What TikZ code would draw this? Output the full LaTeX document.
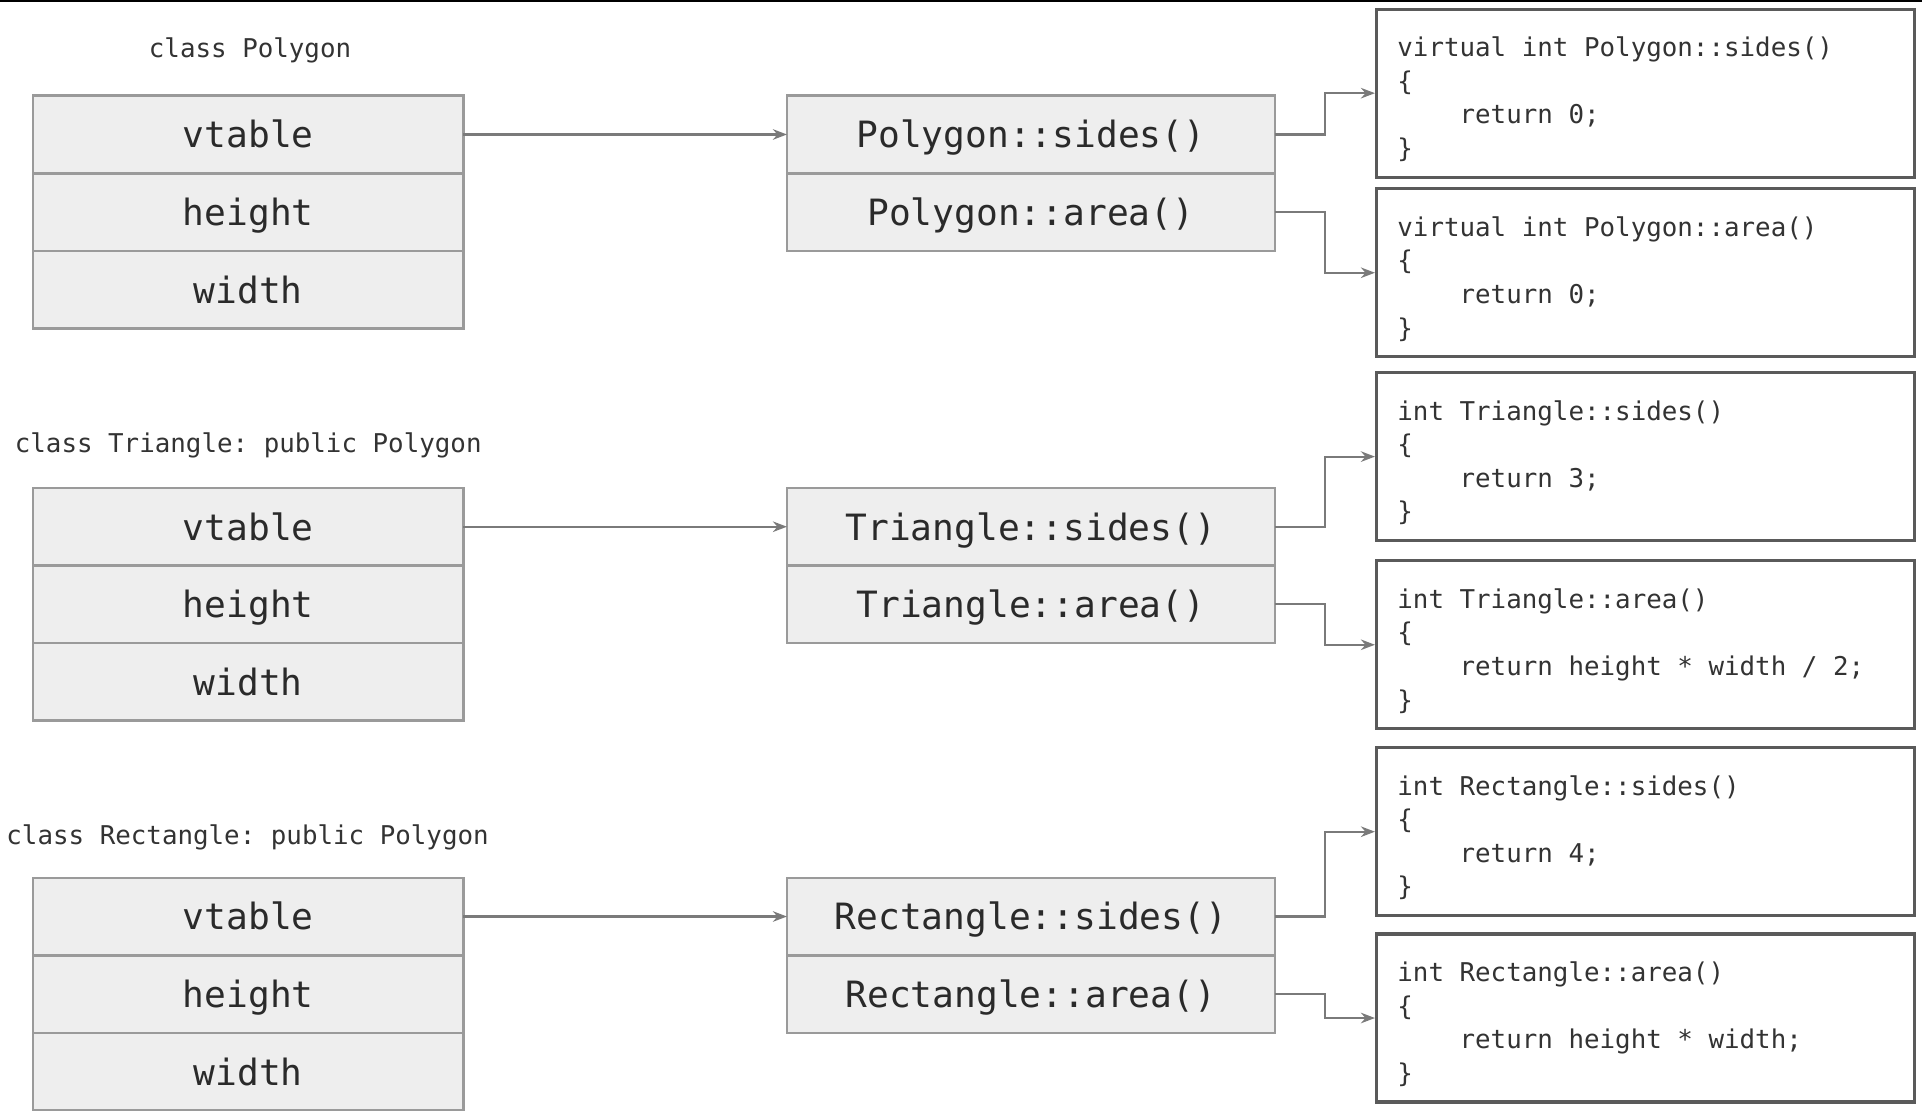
\documentclass[tikz,border=0pt]{standalone}
\usepackage{fontspec}
\usetikzlibrary{arrows.meta,calc}
\newfontfamily\monofont[WordSpace={1,0,0}]{DejaVu Sans Mono}
\frenchspacing
\definecolor{boxfill}{HTML}{EEEEEE}
\definecolor{boxline}{HTML}{9A9A9A}
\definecolor{codeline}{HTML}{5A5A5A}
\definecolor{txt}{HTML}{2A2A2A}
\definecolor{codetxt}{HTML}{333333}
\definecolor{conncol}{HTML}{7A7A7A}
\def\u{0.012258cm}
\newcommand\fixsp{\spaceskip=\fontdimen2\font\relax\xspaceskip=\fontdimen2\font\relax}
\newcommand\ind{\hspace*{2.408em}}
\begin{document}
\begin{tikzpicture}[x=\u,y=-\u,
  field/.style={draw=boxline,fill=boxfill,line width=0.7pt,minimum width={351*\u},minimum height={63.3*\u},inner sep=0pt,outer sep=0pt,text=txt,font=\monofont\fontsize{10.3}{12}\selectfont,text height=0.76em,text depth=0pt},
  method/.style={field,minimum width={398*\u}},
  codebox/.style={draw=codeline,fill=white,line width=0.9pt,minimum width={439*\u},minimum height={137*\u},inner sep=0pt},
  codetext/.style={inner xsep={17*\u},inner ysep=0pt,text width={405*\u},align=left,text=codetxt,font=\monofont\fontsize{7.35}{9.55}\selectfont},
  classlabel/.style={text=codetxt,font=\monofont\fontsize{7.35}{9}\selectfont,inner sep=0pt},
  conn/.style={draw=conncol,line width=0.6pt,-{Stealth[length=4pt,width=3pt]}}
]
\useasboundingbox (0,0) rectangle (1568,906);
\fill[black] (0,0) rectangle (1568,1.6);

% ---- Polygon ----
\node[classlabel] (lp) at (204,41) {class Polygon};
\node[field] (p1) at (202.5,109.7) {vtable};
\node[field] (p2) at (202.5,173) {height};
\node[field] (p3) at (202.5,236.3) {width};
\node[method] (pm1) at (841,109.7) {Polygon::sides()};
\node[method] (pm2) at (841,173) {Polygon::area()};
\node[codebox] (pc1) at (1342.5,76) {};
\node[codetext] (pc1t) at ($(pc1.center)+(0,5)$) {\fixsp virtual int Polygon::sides()\\\{\\\ind return 0;\\\}};
\node[codebox] (pc2) at (1342.5,222.5) {};
\node[codetext] (pc2t) at ($(pc2.center)+(0,5)$) {\fixsp virtual int Polygon::area()\\\{\\\ind return 0;\\\}};

% ---- Triangle ----
\node[classlabel] (lt) at (202.5,363) {class Triangle: public Polygon};
\node[field] (t1) at (202.5,429.7) {vtable};
\node[field] (t2) at (202.5,493) {height};
\node[field] (t3) at (202.5,556.3) {width};
\node[method] (tm1) at (841,429.7) {Triangle::sides()};
\node[method] (tm2) at (841,493) {Triangle::area()};
\node[codebox] (tc1) at (1342.5,372.5) {};
\node[codetext] (tc1t) at ($(tc1.center)+(0,5)$) {\fixsp int Triangle::sides()\\\{\\\ind return 3;\\\}};
\node[codebox] (tc2) at (1342.5,526) {};
\node[codetext] (tc2t) at ($(tc2.center)+(0,5)$) {\fixsp int Triangle::area()\\\{\\\ind return height * width / 2;\\\}};

% ---- Rectangle ----
\node[classlabel] (lr) at (202,683) {class Rectangle: public Polygon};
\node[field] (r1) at (202.5,747.7) {vtable};
\node[field] (r2) at (202.5,811) {height};
\node[field] (r3) at (202.5,874.3) {width};
\node[method] (rm1) at (841,747.7) {Rectangle::sides()};
\node[method] (rm2) at (841,811) {Rectangle::area()};
\node[codebox] (rc1) at (1342.5,678.5) {};
\node[codetext] (rc1t) at ($(rc1.center)+(0,5)$) {\fixsp int Rectangle::sides()\\\{\\\ind return 4;\\\}};
\node[codebox] (rc2) at (1342.5,830.5) {};
\node[codetext] (rc2t) at ($(rc2.center)+(0,5)$) {\fixsp int Rectangle::area()\\\{\\\ind return height * width;\\\}};

% ---- connectors ----
\draw[conn] (p1.east) -- (pm1.west);
\draw[conn] (t1.east) -- (tm1.west);
\draw[conn] (r1.east) -- (rm1.west);
\draw[conn] (pm1.east) -- ++(41,0) |- (pc1.west);
\draw[conn] (pm2.east) -- ++(41,0) |- (pc2.west);
\draw[conn] (tm1.east) -- ++(41,0) |- (tc1.west);
\draw[conn] (tm2.east) -- ++(41,0) |- (tc2.west);
\draw[conn] (rm1.east) -- ++(41,0) |- (rc1.west);
\draw[conn] (rm2.east) -- ++(41,0) |- (rc2.west);
\end{tikzpicture}
\end{document}
